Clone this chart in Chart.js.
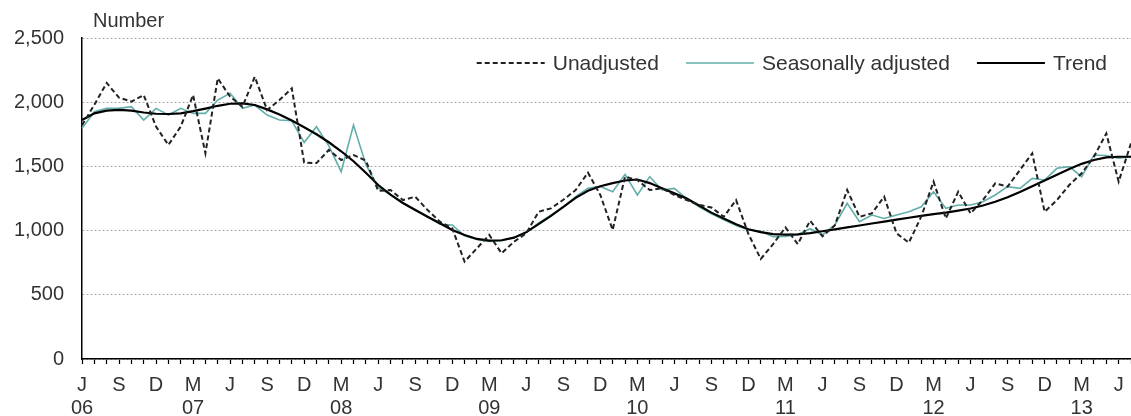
<!DOCTYPE html>
<html>
<head>
<meta charset="utf-8">
<script src="https://cdn.jsdelivr.net/npm/chart.js@4.4.1/dist/chart.umd.min.js"></script>
<style>
  html, body { margin: 0; padding: 0; background: #fff; }
  .chart-container { position: relative; width: 1131px; height: 416px; }
</style>
</head>
<body>
<div class="chart-container">
  <canvas id="chart"></canvas>
</div>
<script>
// Monthly, June 2006 to July 2013
const startYear = 2006;
const startMonth = 5; // June (0 = January)
const monthNames = ['Jan', 'Feb', 'Mar', 'Apr', 'May', 'Jun', 'Jul', 'Aug', 'Sep', 'Oct', 'Nov', 'Dec'];

// tick letters shown every third month, years under March (and the first tick)
const tickLetters = { 5: 'J', 8: 'S', 11: 'D', 2: 'M' };
const yearLabels = ['06', '07', '08', '09', '10', '11', '12', '13'];
const yTicks = [0, 500, 1000, 1500, 2000, 2500];

const unadjusted = [
  1820, 1980, 2150, 2035, 2005, 2056, 1810, 1667, 1810, 2056, 1602, 2186,
  2043, 1965, 2198, 1939, 2017, 2108, 1530, 1526, 1628, 1550, 1589, 1545,
  1310, 1316, 1238, 1264, 1160, 1069, 1018, 758, 862, 966, 823, 913,
  979, 1147, 1173, 1240, 1316, 1451, 1277, 1005, 1420, 1394, 1316, 1329,
  1277, 1238, 1200, 1180, 1108, 1238, 973, 779, 895, 1025, 895, 1077,
  955, 1040, 1316, 1108, 1134, 1264, 979, 906, 1108, 1381, 1095, 1303,
  1134, 1238, 1368, 1342, 1472, 1602, 1147, 1238, 1355, 1446, 1576, 1757,
  1381, 1680
];

const seasonallyAdjusted = [
  1796, 1926, 1952, 1952, 1965, 1861, 1952, 1900, 1952, 1913, 1913, 2017,
  2069, 1952, 1978, 1900, 1861, 1855, 1686, 1809, 1660, 1459, 1822, 1515,
  1335, 1280, 1215, 1165, 1110, 1050, 1044, 960, 930, 915, 922, 945,
  985, 1060, 1120, 1181, 1264, 1329, 1343, 1303, 1438, 1277, 1420, 1316,
  1329, 1250, 1185, 1130, 1085, 1040, 1005, 995, 952, 955, 970, 1015,
  966, 1044, 1212, 1069, 1121, 1095, 1121, 1147, 1186, 1303, 1173, 1199,
  1199, 1225, 1277, 1342, 1329, 1407, 1394, 1485, 1498, 1420, 1589, 1585,
  1563, 1576
];

const trend = [
  1861, 1913, 1934, 1940, 1934, 1920, 1910, 1908, 1913, 1930, 1950, 1972,
  1988, 1991, 1978, 1944, 1905, 1858, 1805, 1750, 1688, 1618, 1540, 1450,
  1355, 1280, 1215, 1160, 1108, 1057, 1005, 966, 935, 922, 925, 945,
  988, 1050, 1115, 1185, 1255, 1310, 1345, 1370, 1390, 1398, 1370, 1330,
  1290, 1250, 1195, 1140, 1095, 1050, 1010, 988, 972, 968, 970, 980,
  995, 1010, 1025, 1040, 1055, 1070, 1085, 1100, 1115, 1128, 1140, 1155,
  1172, 1195, 1225, 1260, 1300, 1345, 1390, 1435, 1480, 1520, 1550, 1570,
  1575, 1575
];

const months = [];
for (let i = 0; i < unadjusted.length; i++) {
  const m = (startMonth + i) % 12;
  const y = startYear + Math.floor((startMonth + i) / 12);
  months.push(monthNames[m] + ' ' + y);
}

const FONT = '"Liberation Sans", Arial, sans-serif';
const TEXT = '#333';

// "Number" unit label above the y axis
const unitLabel = {
  id: 'unitLabel',
  afterDraw(chart) {
    const ctx = chart.ctx;
    ctx.save();
    ctx.font = '20px ' + FONT;
    ctx.fillStyle = TEXT;
    ctx.textBaseline = 'middle';
    ctx.fillText('Number', chart.chartArea.left + 11, 21);
    ctx.restore();
  }
};

// legend drawn inside the plot, right aligned, one row
const insideLegend = {
  id: 'insideLegend',
  afterDraw(chart) {
    const ctx = chart.ctx;
    const sets = chart.data.datasets;
    const sample = 68, gap = 8, itemGap = 27;
    const y = chart.chartArea.top + 25;
    let x = chart.chartArea.right - 24;
    ctx.save();
    ctx.font = '21px ' + FONT;
    ctx.textBaseline = 'middle';
    for (let i = sets.length - 1; i >= 0; i--) {
      const ds = sets[i];
      const tw = ctx.measureText(ds.label).width;
      ctx.fillStyle = TEXT;
      ctx.fillText(ds.label, x - tw, y + 1);
      const lineEnd = x - tw - gap;
      ctx.beginPath();
      ctx.setLineDash(ds.borderDash || []);
      ctx.strokeStyle = ds.borderColor;
      ctx.lineWidth = ds.borderWidth;
      ctx.moveTo(lineEnd - sample, y);
      ctx.lineTo(lineEnd, y);
      ctx.stroke();
      x = lineEnd - sample - itemGap;
    }
    ctx.restore();
  }
};

new Chart(document.getElementById('chart'), {
  type: 'line',
  data: {
    labels: months,
    datasets: [
      {
        label: 'Unadjusted',
        data: unadjusted,
        borderColor: '#222',
        borderWidth: 2,
        borderDash: [5, 3],
        pointRadius: 0,
        order: 0
      },
      {
        label: 'Seasonally adjusted',
        data: seasonallyAdjusted,
        borderColor: '#62aeaa',
        borderWidth: 1.6,
        pointRadius: 0,
        order: 2
      },
      {
        label: 'Trend',
        data: trend,
        borderColor: '#000',
        borderWidth: 2.2,
        pointRadius: 0,
        order: 1
      }
    ]
  },
  options: {
    responsive: true,
    maintainAspectRatio: false,
    animation: false,
    layout: { padding: { top: 38, right: 0, bottom: 0, left: 0 } },
    elements: { line: { tension: 0 } },
    plugins: {
      tooltip: { enabled: false },
      title: { display: false },
      legend: { display: false }
    },
    scales: {
      x: {
        type: 'category',
        offset: false,
        afterFit: (scale) => {
          scale.height = 57;
          scale.paddingRight = 0;
          scale.paddingLeft = 0;
        },
        grid: {
          drawOnChartArea: false,
          drawTicks: true,
          tickLength: 5,
          tickColor: '#000',
          tickWidth: 1.2
        },
        border: { display: true, color: '#000', width: 1.5 },
        ticks: {
          autoSkip: false,
          maxRotation: 0,
          padding: 10,
          color: TEXT,
          font: { family: FONT, size: 20, lineHeight: 1.15 },
          callback: function (value, index) {
            const m = (startMonth + index) % 12;
            const letter = tickLetters[m];
            if (!letter) return '';
            const yr = Math.floor((startMonth + index) / 12);
            if (m === 2 || index === 0) return [letter, yearLabels[yr]];
            return letter;
          }
        }
      },
      y: {
        min: 0,
        max: 2500,
        afterFit: (scale) => { scale.width = 82; },
        afterBuildTicks: (scale) => { scale.ticks = yTicks.map(v => ({ value: v })); },
        grid: {
          drawTicks: false,
          color: '#aaa',
          lineWidth: 1
        },
        border: { display: true, color: '#000', width: 1.5, dash: [2, 2] },
        ticks: {
          padding: 18,
          color: TEXT,
          font: { family: FONT, size: 20 },
          callback: (v) => v.toLocaleString('en-US')
        }
      }
    }
  },
  plugins: [unitLabel, insideLegend]
});
</script>
</body>
</html>
